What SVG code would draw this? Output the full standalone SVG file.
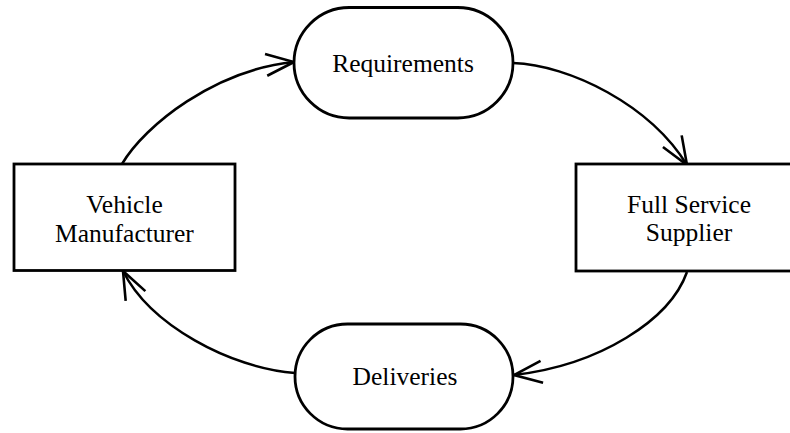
<svg xmlns="http://www.w3.org/2000/svg" width="790" height="433" viewBox="0 0 790 433">
  <defs>
    <style>
      .box { fill: #ffffff; stroke: #000000; stroke-width: 2.8; }
      .flow { fill: none; stroke: #000000; stroke-width: 2.5; }
      .label { font-family: "Liberation Serif", "DejaVu Serif", serif; font-size: 25.5px; fill: #000000; text-anchor: middle; }
    </style>
    <!-- open V arrowhead -->
    <marker id="openArrow" markerUnits="userSpaceOnUse" markerWidth="40" markerHeight="30" viewBox="-32 -15 36 30" refX="0" refY="0" orient="auto" overflow="visible">
      <path d="M -28,-11 L 0,0 L -28,11" fill="none" stroke="#000000" stroke-width="2.6" stroke-linejoin="miter"/>
    </marker>
  </defs>

  <rect width="790" height="433" fill="#ffffff"/>

  <!-- connectors -->
  <g id="connectors">
    <path class="flow" d="M 122,164 C 145,125 215,70 294,62" marker-end="url(#openArrow)"/>
    <path class="flow" d="M 513,63 C 570,65 650,105 687,165" marker-end="url(#openArrow)"/>
    <path class="flow" d="M 687,272 C 670,320 600,365 514,375" marker-end="url(#openArrow)"/>
    <path class="flow" d="M 295,373 C 230,368 150,325 123,271" marker-end="url(#openArrow)"/>
  </g>

  <g id="requirements">
    <rect class="box" x="294" y="7.5" width="219" height="110.5" rx="55.25" ry="55.25"/>
    <text class="label" x="403" y="72">Requirements</text>
  </g>

  <g id="vehicle-manufacturer">
    <rect class="box" x="14" y="164" width="221" height="106.5"/>
    <text class="label" x="124.5" y="213">Vehicle</text>
    <text class="label" x="124.5" y="242">Manufacturer</text>
  </g>

  <g id="full-service-supplier">
    <rect class="box" x="576" y="164" width="230" height="107"/>
    <text class="label" x="689" y="213">Full Service</text>
    <text class="label" x="689" y="241">Supplier</text>
  </g>

  <g id="deliveries">
    <rect class="box" x="295" y="324" width="218" height="105" rx="52.5" ry="52.5"/>
    <text class="label" x="405" y="385">Deliveries</text>
  </g>
</svg>
